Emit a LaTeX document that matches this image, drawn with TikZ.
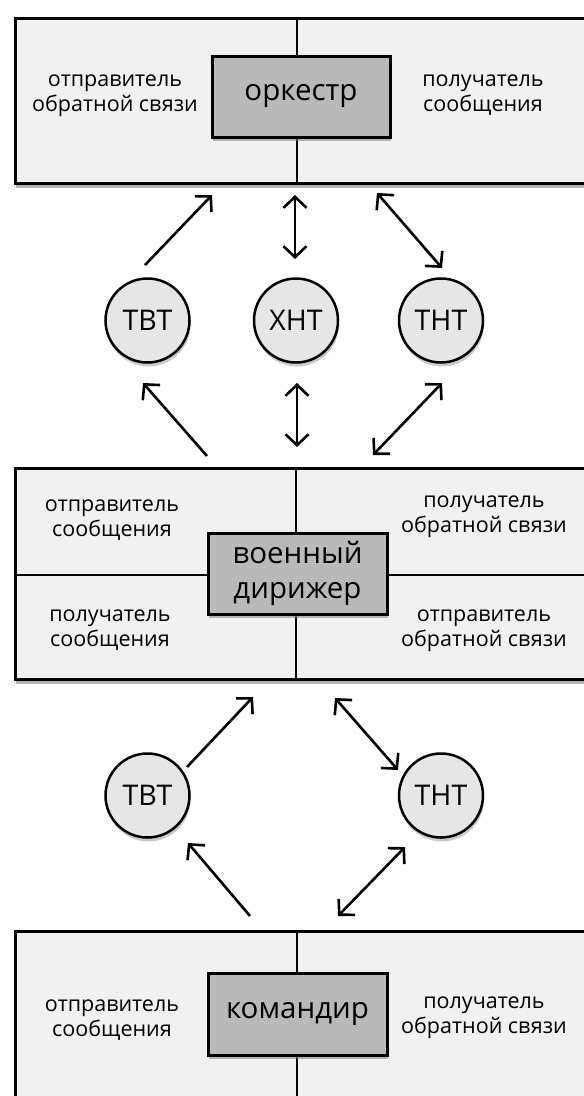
\documentclass[tikz,border=0pt]{standalone}
\usepackage{fontspec}
\setmainfont{Open Sans}
\usetikzlibrary{arrows.meta,shadows}
\definecolor{outerfill}{HTML}{F1F1F1}
\definecolor{innerfill}{HTML}{B9B9B9}
\definecolor{circfill}{HTML}{E6E6E6}
\tikzset{
  outerbox/.style={draw=black, line width=3pt, fill=outerfill, rectangle, inner sep=0pt, anchor=north west,
    drop shadow={shadow xshift=0pt, shadow yshift=-4pt, opacity=0.6}},
  divider/.style={draw=black, line width=2.5pt},
  rolebox/.style={draw=black, line width=3pt, fill=innerfill, rectangle, inner sep=0pt, align=center,
    minimum width=179pt, minimum height=81pt, font=\fontsize{29.5}{35}\selectfont,
    drop shadow={shadow xshift=1pt, shadow yshift=-4pt, opacity=0.55}},
  circnode/.style={draw=black, line width=2.5pt, fill=circfill, circle, inner sep=0pt, minimum size=84pt,
    font=\fontsize{28.5}{30}\selectfont,
    drop shadow={shadow xshift=1pt, shadow yshift=-4pt, opacity=0.4}},
  labeltext/.style={align=center, inner sep=0pt, font=\fontsize{21.5}{25}\selectfont},
  arr/.style={line width=2.6pt, draw=black, -{Straight Barb[length=11pt,width=23pt,line width=2.6pt]}},
  darr/.style={line width=2.6pt, draw=black, {Straight Barb[length=11pt,width=23pt,line width=2.6pt]}-{Straight Barb[length=11pt,width=23pt,line width=2.6pt]}}
}
\begin{document}
\begin{tikzpicture}[x=1pt,y=-1pt]
\useasboundingbox (0,0) rectangle (584,1096);
\clip (0,0) rectangle (584,1096);
\fill[white] (0,0) rectangle (584,1096);

% outer boxes
\node[outerbox, minimum width=578pt, minimum height=165pt] (topbox) at (14,17) {};
\node[outerbox, minimum width=578pt, minimum height=211pt] (midbox) at (14,467) {};
\node[outerbox, minimum width=578pt, minimum height=200pt] (botbox) at (14,930) {};

% dividers
\draw[divider] (297,17) -- (297,182);
\draw[divider] (296,467) -- (296,678);
\draw[divider] (14,575) -- (592,575);
\draw[divider] (297,930) -- (297,1110);

% role boxes
\node[rolebox, minimum width=178pt] (orch) at (301,96.5) {оркестр};
\node[rolebox] (mil) at (297.5,573.5) {военный\\дирижер};
\node[rolebox, minimum height=82pt] (cmd) at (297.5,1014) {командир};

% labels
\node[labeltext] (l1) at (115,95.5) {отправитель\\обратной связи};
\node[labeltext] (r1) at (483,95) {получатель\\сообщения};
\node[labeltext] (l2a) at (112,520) {отправитель\\сообщения};
\node[labeltext] (l2b) at (110,630) {получатель\\сообщения};
\node[labeltext] (r2a) at (484,516.5) {получатель\\обратной связи};
\node[labeltext] (r2b) at (484,630.5) {отправитель\\обратной связи};
\node[labeltext] (l3) at (112,1020.5) {отправитель\\сообщения};
\node[labeltext] (r3) at (484,1017.5) {получатель\\обратной связи};

% circles
\node[circnode] (tvt1) at (147.5,320.5) {ТВТ};
\node[circnode] (xnt1) at (296,320.5) {ХНТ};
\node[circnode] (tnt1) at (441,320.5) {ТНТ};
\node[circnode] (tvt2) at (147.5,795.5) {ТВТ};
\node[circnode] (tnt2) at (441,795.5) {ТНТ};

% arrow end points
\coordinate (a1s) at (145,265);  \coordinate (a1e) at (212,195);
\coordinate (a2s) at (295,195);  \coordinate (a2e) at (295,259);
\coordinate (a3s) at (377,193);  \coordinate (a3e) at (442,268);
\coordinate (a4s) at (207,456);  \coordinate (a4e) at (143,383);
\coordinate (a5s) at (297,383);  \coordinate (a5e) at (297,447);
\coordinate (a6s) at (373,455);  \coordinate (a6e) at (442,383);
\coordinate (b1s) at (187,767);  \coordinate (b1e) at (253,697);
\coordinate (b2s) at (335,698);  \coordinate (b2e) at (398,770);
\coordinate (b3s) at (250,916);  \coordinate (b3e) at (188,843);
\coordinate (b4s) at (338,916);  \coordinate (b4e) at (405,847);

\draw[arr] (a1s) -- (a1e);
\draw[darr] (a2s) -- (a2e);
\draw[darr] (a3s) -- (a3e);
\draw[arr] (a4s) -- (a4e);
\draw[darr] (a5s) -- (a5e);
\draw[darr] (a6s) -- (a6e);
\draw[arr] (b1s) -- (b1e);
\draw[darr] (b2s) -- (b2e);
\draw[arr] (b3s) -- (b3e);
\draw[darr] (b4s) -- (b4e);
\end{tikzpicture}
\end{document}
